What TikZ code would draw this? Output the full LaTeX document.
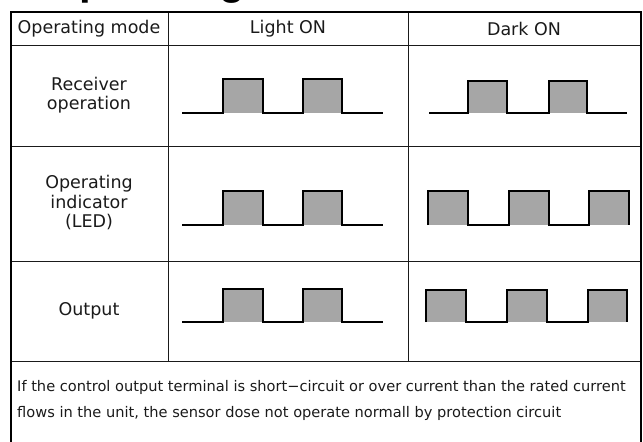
\documentclass[tikz,border=0pt]{standalone}
\usepackage{fontspec}
\setmainfont{DejaVu Sans}
\newfontfamily\titlefont{Liberation Sans}
\definecolor{pulsegrey}{HTML}{A6A6A6}
\definecolor{inkc}{HTML}{1A1A1A}
\tikzset{
  gridline/.style={line width=1pt, draw=inkc},
  outerline/.style={line width=2pt, draw=black},
  wave/.style={line width=1.8pt, draw=black, line join=miter, line cap=butt},
  pulse/.style={fill=pulsegrey},
  lbl/.style={font=\fontsize{17.5}{19.5}\selectfont, align=center, inner sep=0, text=inkc},
  notetext/.style={font=\fontsize{14.6}{18}\selectfont, anchor=west, inner sep=0, text=inkc}
}
\newcommand{\wavelight}[2]{%
  \fill[pulse] (223,#2) rectangle (263,#1);
  \fill[pulse] (303,#2) rectangle (342,#1);
  \draw[wave] (182,#1) -- (223,#1) -- (223,#2) -- (263,#2) -- (263,#1) -- (303,#1)
     -- (303,#2) -- (342,#2) -- (342,#1) -- (383,#1);}
\begin{document}
\begin{tikzpicture}[x=1pt,y=-1pt]
\useasboundingbox (0,0) rectangle (643,442);
% clipped title (only its descenders reach into the picture)
\begin{scope}
\clip (0,0) rectangle (643,442);
\node[anchor=base west, inner sep=0, font=\titlefont\bfseries\fontsize{42}{42}\selectfont] (title) at (47,-6) {Operating};
\end{scope}
% grid
\draw[gridline] (11,45) -- (641,45);
\draw[gridline] (11,146) -- (641,146);
\draw[gridline] (11,261) -- (641,261);
\draw[gridline] (11,361) -- (641,361);
\draw[gridline] (168,12) -- (168,361);
\draw[gridline] (408,12) -- (408,361);
\draw[outerline] (11,445) -- (11,12) -- (641,12) -- (641,445);
% header
\node[lbl] (hmode) at (89,29) {Operating mode};
\node[lbl] (hlight) at (288,29) {Light ON};
\node[lbl] (hdark) at (524,29) {Dark ON};
% row labels
\node[lbl] (lrecv) at (89,95) {Receiver\\operation};
\node[lbl] (lled) at (89,203) {Operating\\indicator\\(LED)};
\node[lbl] (lout) at (89,311) {Output};
% light ON waves
\wavelight{113}{79}
\wavelight{225}{191}
\wavelight{322}{289}
% dark ON row 1
\fill[pulse] (468,81) rectangle (507,113);
\fill[pulse] (549,81) rectangle (587,113);
\draw[wave] (429,113) -- (468,113) -- (468,81) -- (507,81) -- (507,113) -- (549,113)
   -- (549,81) -- (587,81) -- (587,113) -- (627,113);
% dark ON row 2
\fill[pulse] (428,191) rectangle (468,225);
\fill[pulse] (509,191) rectangle (549,225);
\fill[pulse] (589,191) rectangle (629,225);
\draw[wave] (428,225) -- (428,191) -- (468,191) -- (468,225) -- (509,225) -- (509,191)
   -- (549,191) -- (549,225) -- (589,225) -- (589,191) -- (629,191) -- (629,225);
% dark ON row 3
\fill[pulse] (426,290) rectangle (466,322);
\fill[pulse] (507,290) rectangle (547,322);
\fill[pulse] (588,290) rectangle (627,322);
\draw[wave] (426,322) -- (426,290) -- (466,290) -- (466,322) -- (507,322) -- (507,290)
   -- (547,290) -- (547,322) -- (588,322) -- (588,290) -- (627,290) -- (627,322);
% note
\node[notetext] (note1) at (17,387) {If the control output terminal is short−circuit or over current than the rated current};
\node[notetext] (note2) at (17,413) {flows in the unit, the sensor dose not operate normall by protection circuit};
\end{tikzpicture}
\end{document}
